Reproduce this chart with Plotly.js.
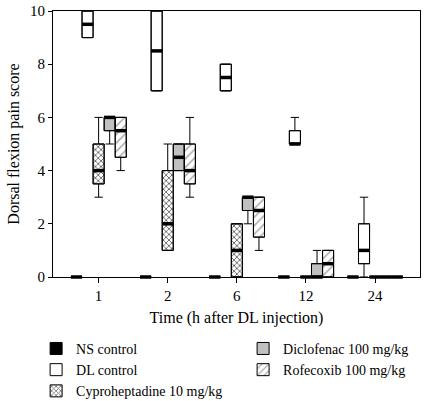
<!DOCTYPE html>
<html><head><meta charset="utf-8">
<script src="https://cdn.plot.ly/plotly-3.0.1.min.js"></script>
<style>html,body{margin:0;padding:0;background:#fff}#chart{width:438px;height:401px}</style>
</head><body><div id="chart"></div>
<script>
// Time points (h after DL injection)
const timeLabels = ['1', '2', '6', '12', '24'];
const groupNames = ['NS control', 'DL control', 'Cyproheptadine 10 mg/kg', 'Diclofenac 100 mg/kg', 'Rofecoxib 100 mg/kg'];

// Box statistics per group, one value per time point
const nsLower  = [0, 0, 0, 0, 0];
const nsQ1     = [0, 0, 0, 0, 0];
const nsMedian = [0, 0, 0, 0, 0];
const nsQ3     = [0, 0, 0, 0, 0];
const nsUpper  = [0, 0, 0, 0, 0];

const dlLower  = [9, 7, 7, 5, 0];
const dlQ1     = [9, 7, 7, 5, 0.5];
const dlMedian = [9.5, 8.5, 7.5, 5, 1];
const dlQ3     = [10, 10, 8, 5.5, 2];
const dlUpper  = [10, 10, 8, 6, 3];

const cyLower  = [3, 1, 0, 0, 0];
const cyQ1     = [3.5, 1, 0, 0, 0];
const cyMedian = [4, 2, 1, 0, 0];
const cyQ3     = [5, 4, 2, 0, 0];
const cyUpper  = [6, 5, 2, 0, 0];

const dcLower  = [5, 4, 2, 0, 0];
const dcQ1     = [5.5, 4, 2.5, 0, 0];
const dcMedian = [6, 4.5, 3, 0, 0];
const dcQ3     = [6, 5, 3, 0.5, 0];
const dcUpper  = [6, 5, 3, 1, 0];

const rfLower  = [4, 3, 1, 0, 0];
const rfQ1     = [4.5, 3.5, 1.5, 0, 0];
const rfMedian = [5.5, 4, 2.5, 0.5, 0];
const rfQ3     = [6, 5, 3, 1, 0];
const rfUpper  = [6, 6, 3, 1, 0];

const groups = [
  {lo: nsLower, q1: nsQ1, md: nsMedian, q3: nsQ3, hi: nsUpper},
  {lo: dlLower, q1: dlQ1, md: dlMedian, q3: dlQ3, hi: dlUpper},
  {lo: cyLower, q1: cyQ1, md: cyMedian, q3: cyQ3, hi: cyUpper},
  {lo: dcLower, q1: dcQ1, md: dcMedian, q3: dcQ3, hi: dcUpper},
  {lo: rfLower, q1: rfQ1, md: rfMedian, q3: rfQ3, hi: rfUpper}
];

const styles = [
  {color: '#000000', pattern: null},
  {color: '#ffffff', pattern: null},
  {color: '#ffffff', pattern: {shape: 'x', fgcolor: '#666666', bgcolor: '#ffffff', size: 4, solidity: 0.4}},
  {color: '#c0c0c0', pattern: null},
  {color: '#ffffff', pattern: {shape: '/', fgcolor: '#a8a8a8', bgcolor: '#ffffff', size: 6, solidity: 0.25}}
];
const legendIds = ['legend', 'legend', 'legend', 'legend2', 'legend2'];

const W = 0.16;
const idx = timeLabels.map((_, i) => i);
const traces = [];
groups.forEach((g, k) => {
  const off = (k - 2) * W;
  const xs = idx.map(i => i + off);
  const mk = {color: styles[k].color, line: {width: 1, color: '#000'}};
  if (styles[k].pattern) mk.pattern = styles[k].pattern;
  traces.push({
    type: 'bar', name: groupNames[k], x: xs,
    base: g.q1, y: g.q3.map((v, i) => v - g.q1[i]),
    width: W, marker: mk, legend: legendIds[k],
    hoverinfo: 'skip', showlegend: true
  });
});
groups.forEach((g, k) => {
  const off = (k - 2) * W;
  const xs = idx.map(i => i + off);
  traces.push({
    type: 'box', x: xs, q1: g.q1, median: g.md, q3: g.q3,
    lowerfence: g.lo, upperfence: g.hi, width: W,
    fillcolor: 'rgba(0,0,0,0)', line: {color: '#000', width: 1},
    whiskerwidth: 0.75, boxpoints: false, showlegend: false, hoverinfo: 'skip'
  });
});
groups.forEach((g, k) => {
  const off = (k - 2) * W;
  const xs = idx.map(i => i + off);
  traces.push({
    type: 'scatter', mode: 'markers', x: xs, y: g.md,
    marker: {symbol: 'line-ew', size: 8, color: '#000', line: {color: '#000', width: 3.5}},
    cliponaxis: false, showlegend: false, hoverinfo: 'skip'
  });
});

const font = {family: 'Liberation Serif, Times New Roman, serif', size: 15, color: '#000'};
const titleFont = {family: font.family, size: 16, color: '#000'};
const legFont = {family: font.family, size: 14, color: '#000'};
const layout = {
  width: 438, height: 401,
  margin: {l: 53, r: 18, t: 11, b: 124, autoexpand: false},
  paper_bgcolor: '#fff', plot_bgcolor: '#fff',
  font: font,
  barmode: 'overlay',
  showlegend: true,
  xaxis: {
    range: [-0.66, 4.65], tickmode: 'array', tickvals: idx, ticktext: timeLabels,
    showgrid: false, zeroline: false, showline: true, linecolor: '#000', linewidth: 1,
    mirror: true, ticks: 'outside', ticklen: 5, tickcolor: '#000', automargin: false,
    title: {text: 'Time (h after DL injection)', font: titleFont, standoff: 8}
  },
  yaxis: {
    range: [0, 10], tickvals: [0, 2, 4, 6, 8, 10],
    showgrid: false, zeroline: false, showline: true, linecolor: '#000', linewidth: 1,
    mirror: true, ticks: 'outside', ticklen: 4, tickcolor: '#000', automargin: false,
    title: {text: 'Dorsal flexion pain score', font: titleFont, standoff: 6}
  },
  legend: {
    orientation: 'v', x: -0.046, xanchor: 'left', y: -0.21, yanchor: 'top',
    traceorder: 'normal', font: legFont, tracegroupgap: 0, itemwidth: 30
  },
  legend2: {
    orientation: 'v', x: 0.518, xanchor: 'left', y: -0.21, yanchor: 'top',
    traceorder: 'normal', font: legFont, tracegroupgap: 0, itemwidth: 30
  }
};
Plotly.newPlot('chart', traces, layout, {staticPlot: true, displayModeBar: false});
</script>
</body></html>
